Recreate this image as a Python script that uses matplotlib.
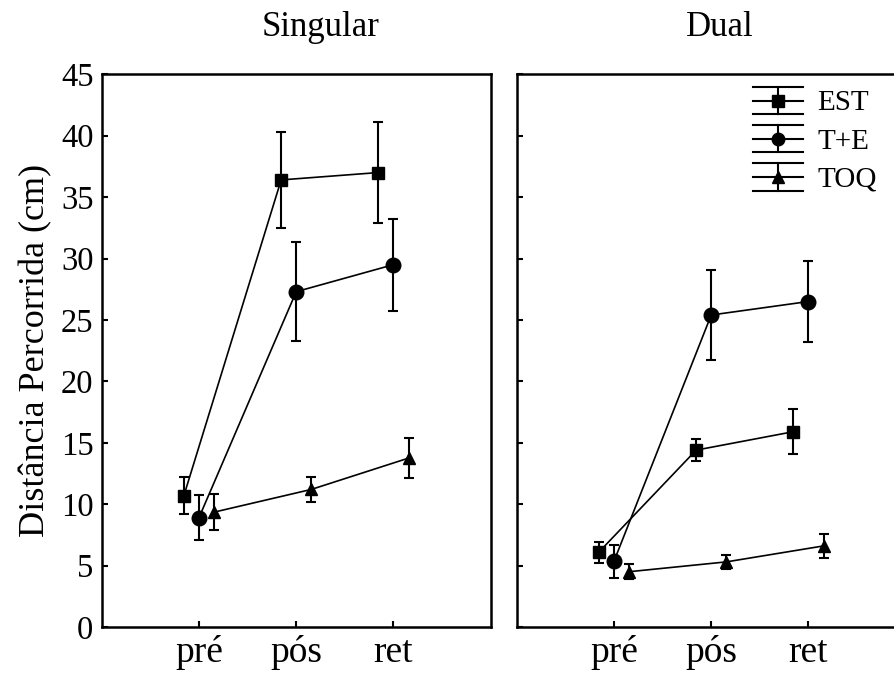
import numpy as np
import matplotlib
matplotlib.use("Agg")
import matplotlib.pyplot as plt
from matplotlib.lines import Line2D
from matplotlib.legend_handler import HandlerBase

plt.rcParams['font.family'] = ['Liberation Serif', 'DejaVu Serif']
plt.rcParams['font.size'] = 21

# data
phases = ['pré', 'pós', 'ret']
groups = ['EST', 'T+E', 'TOQ']
markers = ['s', 'o', '^']

sing_mean = [[10.7, 36.4, 37.0],
             [8.9, 27.3, 29.5],
             [9.35, 11.2, 13.75]]
sing_err = [[1.5, 3.9, 4.1],
            [1.85, 4.05, 3.75],
            [1.45, 1.05, 1.65]]

dual_mean = [[6.1, 14.4, 15.9],
             [5.35, 25.4, 26.5],
             [4.5, 5.3, 6.6]]
dual_err = [[0.85, 0.9, 1.85],
            [1.35, 3.65, 3.3],
            [0.6, 0.6, 0.95]]

offsets = [-0.155, 0.0, 0.155]


class BoxHandler(HandlerBase):
    # statistica-like legend key: whisker box with marker
    def create_artists(self, legend, orig_handle, xdescent, ydescent,
                       width, height, fontsize, trans):
        x0, y0 = -xdescent, -ydescent
        x1, y1 = x0 + width, y0 + height
        xc, yc = (x0 + x1) / 2, (y0 + y1) / 2
        kw = dict(color='black', lw=1.5, transform=trans)
        arts = [Line2D([x0, x1], [y1, y1], **kw),
                Line2D([x0, x1], [y0, y0], **kw),
                Line2D([x0, x1], [yc, yc], **kw),
                Line2D([xc, xc], [y0, y1], **kw),
                Line2D([xc], [yc], marker=orig_handle.get_marker(),
                       markersize=orig_handle.get_markersize(),
                       color='black', transform=trans, linestyle='none')]
        return arts


fig = plt.figure(figsize=(8.94, 6.79), dpi=100)
ax1 = fig.add_axes([0.1138, 0.0766, 0.4351, 0.814])
ax2 = fig.add_axes([0.578, 0.0766, 0.4351, 0.814])

x = np.arange(len(phases))
for ax, means, errs in [(ax1, sing_mean, sing_err), (ax2, dual_mean, dual_err)]:
    for i in range(3):
        ax.errorbar(x + offsets[i], means[i], yerr=errs[i], marker=markers[i],
                    color='black', lw=1.2, elinewidth=1.5, capsize=3.3,
                    capthick=1.5, markersize=9 if i != 1 else 10.5)
    ax.set_xlim(-1, 3)
    ax.set_ylim(0, 45)
    ax.set_xticks(x)
    ax.set_xticklabels(phases, fontsize=27)
    ax.set_yticks(np.arange(0, 46, 5))
    ax.tick_params(axis='y', labelsize=23.5)
    ax.tick_params(direction='in', length=4, width=1.5, pad=6)
    for sp in ax.spines.values():
        sp.set_linewidth(1.8)

ax2.set_yticklabels([])
ax1.set_ylabel('Distância Percorrida (cm)', fontsize=26, labelpad=6)

fig.text(321 / 894, 1 - 28 / 679, 'Singular', ha='center', va='center', fontsize=25)
fig.text(720 / 894, 1 - 28 / 679, 'Dual', ha='center', va='center', fontsize=25)

handles = [Line2D([], [], marker=m, markersize=9, color='black') for m in markers]
fig.legend(handles, groups, handler_map={Line2D: BoxHandler()},
           loc='upper left', bbox_to_anchor=(753 / 894, 1 - 87 / 679),
           frameon=False, borderpad=0, borderaxespad=0,
           handlelength=1.7, handleheight=1.05, labelspacing=0.3,
           handletextpad=0.5, fontsize=21)

fig.savefig('out.png', dpi=100)
